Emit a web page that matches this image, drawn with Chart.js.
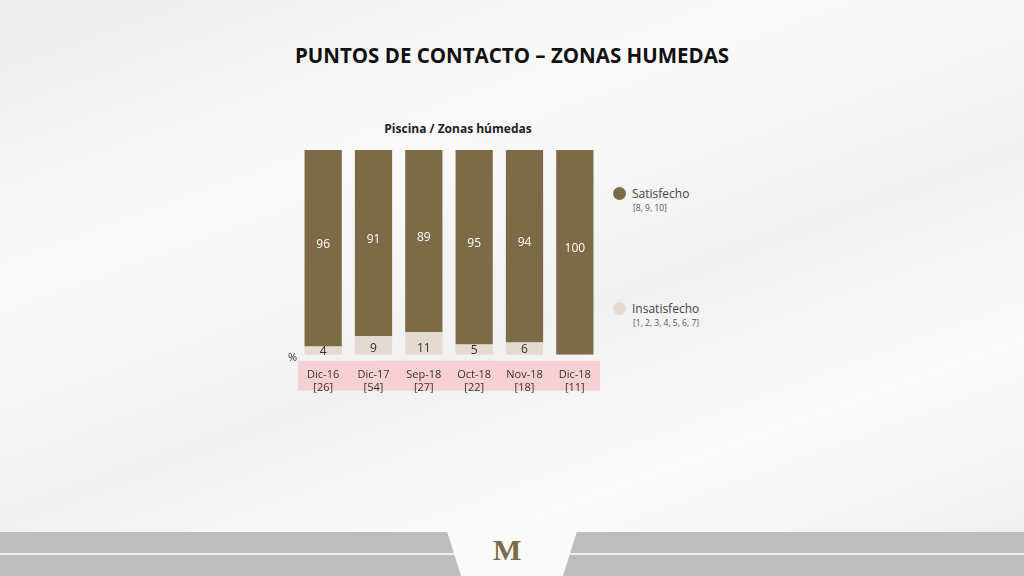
<!DOCTYPE html>
<html><head><meta charset="utf-8">
<script src="https://cdn.jsdelivr.net/npm/chart.js@4/dist/chart.umd.min.js"></script>
<style>
body{margin:0;width:1024px;height:576px;overflow:hidden;font-family:"Open Sans",sans-serif;
background:linear-gradient(160deg,#ececec 0%,#fafafa 30%,#f1f1f1 55%,#fbfbfb 75%,#eeeeee 100%);position:relative}
#title{position:absolute;top:41px;left:0;width:1024px;text-align:center;font:bold 20.5px "Open Sans",sans-serif;color:#111}
#sub{position:absolute;top:120px;left:300px;width:316px;text-align:center;font:bold 12px "Open Sans",sans-serif;color:#222}
.leg{position:absolute;left:613px;font:12px "Open Sans",sans-serif;color:#444}
.leg i{display:inline-block;width:13px;height:13px;border-radius:50%;vertical-align:-2px;margin-right:6px}
.leg small{display:block;font-size:8.5px;margin-left:20px;color:#555}
#footer{position:absolute;left:0;top:532px;width:1024px;height:44px;background:#bdbdbd}
#footer .line{position:absolute;top:21px;left:0;width:1024px;height:2px;background:#eee}
#logo{position:absolute;left:445px;top:525px;width:134px;height:51px;background:#fafafa;clip-path:polygon(0 0,100% 0,88% 100%,12% 100%)}
#logo span{position:absolute;left:48px;top:8px;font:bold 30px serif;color:#7d6b48}
canvas{position:absolute;left:0;top:0}
</style></head><body>
<div id="title">PUNTOS DE CONTACTO – ZONAS HUMEDAS</div>
<div id="sub">Piscina / Zonas húmedas</div>
<div class="leg" style="top:185px"><i style="background:#7d6b48"></i>Satisfecho<small>[8, 9, 10]</small></div>
<div class="leg" style="top:300px"><i style="background:#e3dbd0"></i>Insatisfecho<small>[1, 2, 3, 4, 5, 6, 7]</small></div>
<div id="footer"><div class="line"></div></div>
<div id="logo"><span>M</span></div>
<canvas id="c" width="1024" height="576"></canvas>
<script>
const categories=["Dic-16","Dic-17","Sep-18","Oct-18","Nov-18","Dic-18"];
const bases=["[26]","[54]","[27]","[22]","[18]","[11]"];
const insatisfecho=[4,9,11,5,6,0];
const satisfecho=[96,91,89,95,94,100];
const band={id:'band',beforeDraw(ch){const c=ch.ctx,a=ch.chartArea;c.save();c.fillStyle='#f6d0d3';c.fillRect(a.left,a.bottom+6,a.right-a.left,30);
c.fillStyle='#333';c.font='11px "Open Sans"';c.textAlign='right';c.fillText('%',a.left-1,a.bottom+6);c.restore();},
afterDatasetsDraw(ch){const c=ch.ctx;c.save();c.font='12px "Open Sans"';c.textAlign='center';c.textBaseline='middle';
ch.data.datasets.forEach((ds,i)=>{ch.getDatasetMeta(i).data.forEach((b,j)=>{const v=ds.data[j];if(!v)return;
c.fillStyle=i===0?'#333':'#fff';let y;if(i===1)y=(b.y+b.base)/2-4;else y=Math.max(b.y+(b.base-b.y)*0.6,b.base-6);c.fillText(v,b.x,y);});});c.restore();}};
new Chart(document.getElementById('c'),{type:'bar',
data:{labels:categories.map((c,i)=>[c,bases[i]]),datasets:[
{label:'Insatisfecho',data:insatisfecho,backgroundColor:'#e3dbd0',barPercentage:0.74,categoryPercentage:1},
{label:'Satisfecho',data:satisfecho,backgroundColor:'#7d6b48',barPercentage:0.74,categoryPercentage:1}]},
options:{responsive:false,animation:false,layout:{padding:{left:298,right:424,top:150,bottom:176}},
plugins:{legend:{display:false},tooltip:{enabled:false}},
scales:{x:{stacked:true,grid:{display:false},border:{display:false},ticks:{color:'#333',font:{size:11,family:'Open Sans',lineHeight:1.15},padding:6}},
y:{stacked:true,display:false,min:0,max:100}}},plugins:[band]});
</script></body></html>
